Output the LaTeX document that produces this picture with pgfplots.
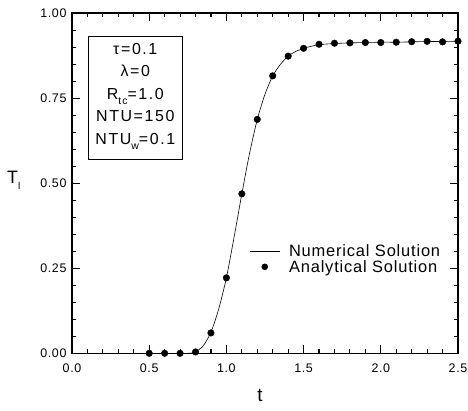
\documentclass[border=0pt]{standalone}
\usepackage{fontspec}
\setmainfont{Liberation Sans}
\newfontfamily\lsp[LetterSpace=5]{Liberation Sans}
\newfontfamily\bsp[LetterSpace=10]{Liberation Sans}
\usepackage{pgfplots}
\pgfplotsset{compat=1.18}
\pgfplotsset{
  linelegend/.style={legend image code/.code={\draw[##1] (0bp,0bp) -- (30bp,0bp);}},
  dotlegend/.style={legend image code/.code={\path[draw=none] (0bp,0bp) -- (30bp,0bp); \fill[black, draw=none] (15bp,0bp) circle (3.3bp);}},
}
\begin{document}
\begin{tikzpicture}
\useasboundingbox (-72bp,-57.7bp) rectangle (396bp,353.3bp);
\begin{axis}[
  at={(0,0)}, anchor=south west,
  scale only axis, width=386bp, height=340bp,
  xmin=0, xmax=2.5, ymin=0, ymax=1,
  xtick={0,0.5,...,2.5}, ytick={0,0.25,0.5,0.75,1},
  minor x tick num=4, minor y tick num=4,
  tick align=inside, major tick length=8bp, minor tick length=4bp,
  every tick/.style={black, line width=1.1bp},
  axis line style={line width=1.6bp},
  /pgf/number format/assume math mode=true,
  xticklabel style={/pgf/number format/.cd, fixed, fixed zerofill, precision=1},
  yticklabel style={/pgf/number format/.cd, fixed, fixed zerofill, precision=2},
  ticklabel style={font=\lsp\fontsize{12.5}{14}\selectfont},
  xticklabel shift=7bp, yticklabel shift=2bp,
  clip=false,
  xlabel={t},
  ylabel={T\raisebox{-0.35em}{\fontsize{10}{10}\selectfont l}},
  every axis x label/.style={at={(rel axis cs:0.487,0)}, anchor=north, yshift=-36bp, inner sep=0pt, font=\fontsize{19}{20}\selectfont},
  every axis y label/.style={at={(rel axis cs:0,0.508)}, anchor=west, xshift=-65bp, inner sep=0pt, font=\fontsize{18}{20}\selectfont},
  legend style={draw=none, fill=none, at={(axis cs:1.148,0.277)}, anchor=west, inner sep=0pt,
    font=\lsp\fontsize{16.5}{18}\selectfont, row sep=0bp, column sep=8bp,
    nodes={inner sep=1bp}},
  legend cell align=left,
]
\addplot[black, line width=0.6bp, smooth, tension=0.4, linelegend] coordinates {
(0.0,0) (0.5,0) (0.75,0) (0.8,0.004) (0.85,0.022) (0.9,0.062) (0.95,0.13)
(1.0,0.222) (1.05,0.342) (1.1,0.469) (1.15,0.588) (1.2,0.688) (1.25,0.762)
(1.3,0.816) (1.35,0.85) (1.4,0.874) (1.45,0.888) (1.5,0.897) (1.55,0.903)
(1.6,0.908) (1.7,0.911) (1.8,0.913) (1.9,0.914) (2.0,0.915) (2.1,0.915)
(2.2,0.916) (2.3,0.917) (2.4,0.917) (2.5,0.918)
};
\addlegendentry{Numerical Solution}
\addplot[only marks, mark=*, mark size=3.3bp, black, dotlegend] coordinates {
(0.5,0) (0.6,0) (0.7,0) (0.8,0.004) (0.9,0.06) (1.0,0.222) (1.1,0.469)
(1.2,0.688) (1.3,0.816) (1.4,0.874) (1.5,0.897) (1.6,0.909) (1.7,0.912)
(1.8,0.913) (1.9,0.914) (2.0,0.914) (2.1,0.915) (2.2,0.9165) (2.3,0.9176)
(2.4,0.916) (2.5,0.918)
};
\addlegendentry{Analytical Solution}
\draw[line width=0.8bp] (axis cs:0.103,0.933) rectangle (axis cs:0.716,0.571);
\node[align=center, inner sep=0pt, font=\bsp\fontsize{16}{22.5}\selectfont]
  at (axis cs:0.41,0.755) {τ=0.1\\λ=0\\R\raisebox{-0.35em}{\fontsize{10.5}{10}\selectfont tc}=1.0\\NTU=150\\NTU\raisebox{-0.35em}{\fontsize{10.5}{10}\selectfont w}=0.1};
\end{axis}
\end{tikzpicture}
\end{document}
